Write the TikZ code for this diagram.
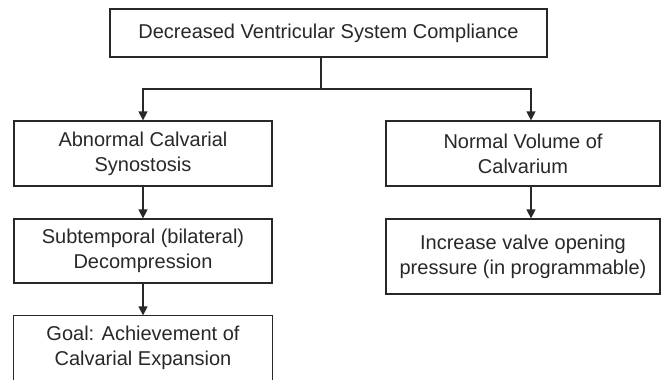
\documentclass[tikz,border=0pt]{standalone}
\usepackage{fontspec}
\setmainfont{Liberation Sans}
\usetikzlibrary{arrows.meta}
\definecolor{ink}{RGB}{40,40,40}
\begin{document}
\begin{tikzpicture}[x=1pt,y=-1pt,
  box/.style={draw=ink, line width=1.2pt, text=ink, align=center, inner sep=0pt,
    font=\fontsize{20}{25}\selectfont},
  conn/.style={draw=ink, line width=1.2pt},
  arr/.style={conn, -{Triangle[width=9pt,length=9pt]}}]
\clip (0,0) rectangle (662,380);
\fill[white] (0,0) rectangle (662,380);
\node[box, minimum width=437pt, minimum height=48pt] (top) at (328.5,33) {Decreased Ventricular System Compliance};
\node[box, minimum width=258pt, minimum height=65pt] (l1) at (143,153.5) {Abnormal Calvarial\\Synostosis};
\node[box, minimum width=274pt, minimum height=65pt] (r1) at (523,153.5) {Normal Volume of\\Calvarium};
\node[box, minimum width=258pt, minimum height=64pt] (l2) at (143,251) {Subtemporal (bilateral)\\Decompression};
\node[box, draw=none, minimum width=258pt, minimum height=64pt] (l3) at (143,348) {Goal: Achievement of\\Calvarial Expansion};
\draw[conn] ([yshift=-10pt]l3.south west) -- (l3.north west) -- (l3.north east) -- ([yshift=-10pt]l3.south east);
\node[box, minimum width=274pt, minimum height=75pt] (r2) at (523,256.5) {Increase valve opening\\pressure (in programmable)};
\coordinate (j) at (321,89);
\coordinate (rx) at (531,89);
\draw[conn] (top.south -| j) -- (j);
\draw[arr] (j) -| (l1.north);
\draw[arr] (j) -| (r1.north -| rx);
\draw[arr] (l1) -- (l2);
\draw[arr] (l2) -- (l3.north);
\draw[arr] (r1.south -| rx) -- (r2.north -| rx);
\end{tikzpicture}
\end{document}
